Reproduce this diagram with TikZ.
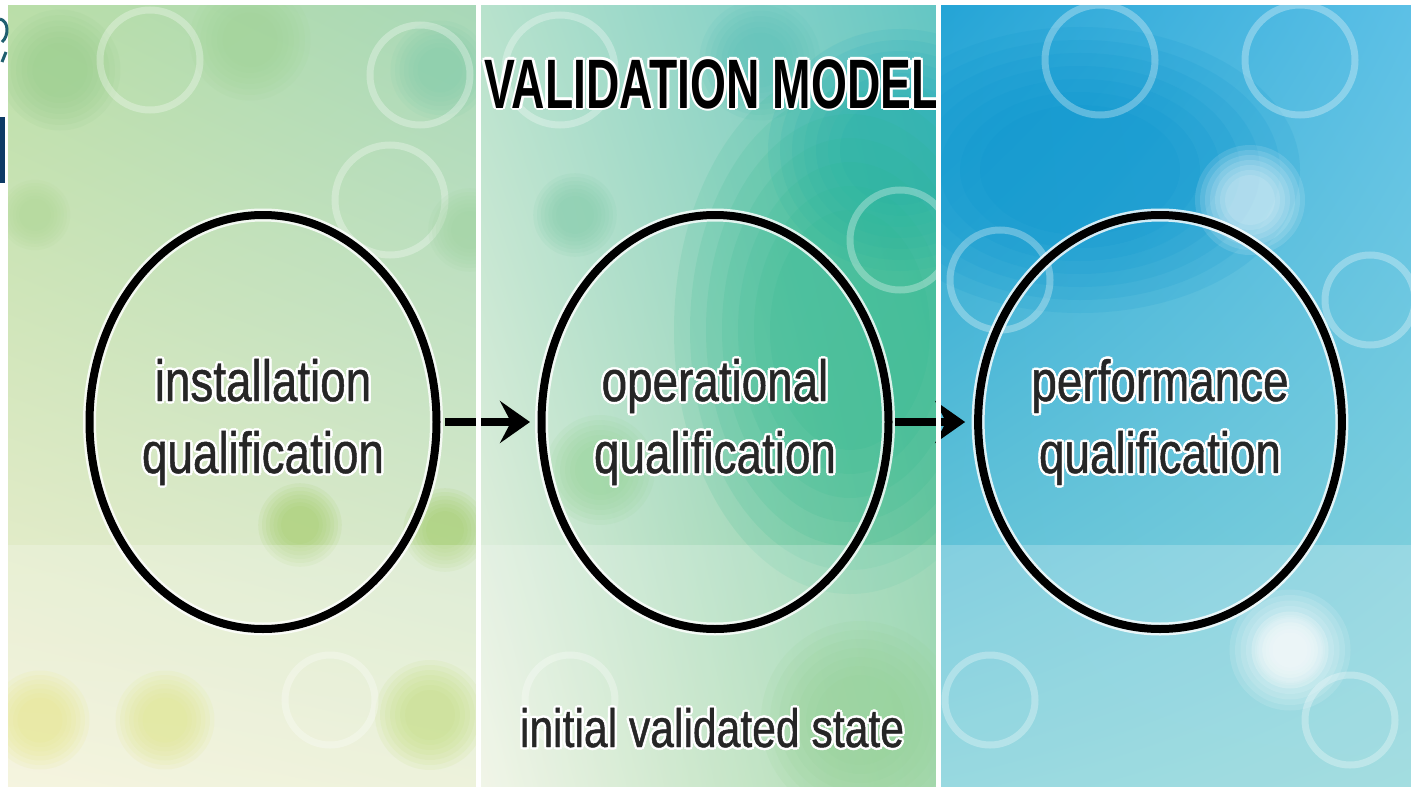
\documentclass[tikz,border=0pt]{standalone}
\usepackage{fontspec}
\setmainfont{Liberation Sans}
\newfontfamily\condfont[FakeStretch=0.79,FakeBold=0.8]{Liberation Sans}
\newfontfamily\titlefont[FakeStretch=0.66]{Liberation Sans}
\usetikzlibrary{arrows.meta,shapes.geometric,shadings}
\definecolor{txtgray}{HTML}{262626}
\definecolor{navyfrag}{HTML}{0D3B66}
\definecolor{tealfrag}{HTML}{1F5F6F}
\definecolor{lUL}{RGB}{186,222,168}\definecolor{lUR}{RGB}{168,216,184}
\definecolor{lLL}{RGB}{243,241,214}\definecolor{lLR}{RGB}{232,239,210}
\definecolor{mUL}{RGB}{184,226,204}\definecolor{mUR}{RGB}{100,198,196}
\definecolor{mLL}{RGB}{238,243,226}\definecolor{mLR}{RGB}{140,207,152}
\definecolor{rUL}{RGB}{36,164,214}\definecolor{rUR}{RGB}{92,192,230}
\definecolor{rLL}{RGB}{124,207,216}\definecolor{rLR}{RGB}{138,212,216}
\definecolor{bk1}{RGB}{150,204,138}\definecolor{bk2}{RGB}{160,212,150}
\definecolor{bk3}{RGB}{130,204,170}\definecolor{bk4}{RGB}{176,216,150}
\definecolor{bk5}{RGB}{160,212,160}\definecolor{bk6}{RGB}{160,204,100}
\definecolor{bk7}{RGB}{224,224,100}\definecolor{bk8}{RGB}{214,222,100}
\definecolor{bk9}{RGB}{176,212,84}\definecolor{bk10}{RGB}{130,204,170}
\definecolor{bk11}{RGB}{90,192,184}\definecolor{bk12}{RGB}{40,184,140}
\definecolor{bk13}{RGB}{150,212,150}\definecolor{bk14}{RGB}{118,196,118}
\definecolor{bk15}{RGB}{4,146,206}\definecolor{bk16}{RGB}{30,170,190}
\newcommand\glowtext[1]{\leavevmode\rlap{\color{white}%
 \rlap{\kern2.5pt #1}\rlap{\kern-2.5pt #1}\rlap{\raisebox{2.5pt}{#1}}\rlap{\raisebox{-2.5pt}{#1}}%
 \rlap{\kern1.8pt\raisebox{1.8pt}{#1}}\rlap{\kern-1.8pt\raisebox{1.8pt}{#1}}%
 \rlap{\kern1.8pt\raisebox{-1.8pt}{#1}}\rlap{\kern-1.8pt\raisebox{-1.8pt}{#1}}}#1}
\newcommand\softblob[5]{% x, y, x radius, y radius, colour
  \foreach \k in {1,...,7}{%
    \fill[#5, fill opacity=0.12] (#1,#2) circle[x radius={#3*(0.4+0.1*\k)}, y radius={#4*(0.4+0.1*\k)}];}}
\tikzset{
  qual/.style={ellipse, draw=black, line width=8pt, minimum width=347pt, minimum height=414pt,
    inner sep=0pt, align=center, text=txtgray,
    font={\condfont\fontsize{58}{72}\selectfont},
    preaction={draw=white, draw opacity=.8, line width=13pt}},
  flow/.style={line width=8pt, draw=black, -{Stealth[length=30pt,width=42pt,inset=11pt]}},
  titletext/.style={anchor=base, inner sep=0pt, text=black, font={\titlefont\bfseries\fontsize{70}{84}\selectfont}},
  bottomtext/.style={anchor=base, inner sep=0pt, text=txtgray, font={\condfont\fontsize{54}{60}\selectfont}},
  ring/.style={draw=white, draw opacity=.3, line width=7pt, fill=none},
  sep/.style={fill=white, draw=none}
}
\begin{document}
\begin{tikzpicture}[x=1pt,y=-1pt]
\useasboundingbox (0,0) rectangle (1411,787);
\fill[white] (0,0) rectangle (1411,787);
% panel backgrounds
\shade[upper left=lUL, upper right=lUR, lower left=lLL, lower right=lLR] (8,5) rectangle (477,787);
\shade[upper left=mUL, upper right=mUR, lower left=mLL, lower right=mLR] (480,5) rectangle (937,787);
\shade[upper left=rUL, upper right=rUR, lower left=rLL, lower right=rLR] (940,5) rectangle (1411,787);
% bokeh, left panel
\begin{scope}
\clip (8,5) rectangle (477,787);
\softblob{60}{70}{55}{55}{bk1}
\softblob{250}{40}{55}{55}{bk2}
\draw[ring] (150,60) circle[radius=50];
\softblob{440}{70}{45}{45}{bk3}
\draw[ring] (420,75) circle[radius=50];
\softblob{35}{215}{32}{32}{bk4}
\draw[ring] (390,200) circle[radius=55];
\softblob{470}{230}{38}{38}{bk5}
\softblob{300}{525}{38}{38}{bk6}
\softblob{445}{530}{38}{38}{bk6}
\softblob{40}{720}{45}{45}{bk7}
\softblob{165}{720}{45}{45}{bk8}
\softblob{430}{715}{50}{50}{bk9}
\draw[ring] (330,700) circle[radius=45];
\end{scope}
% bokeh, middle panel
\begin{scope}
\clip (480,5) rectangle (937,787);
\softblob{575}{215}{38}{38}{bk10}
\draw[ring] (560,70) circle[radius=55];
\softblob{760}{60}{55}{55}{bk11}
\softblob{900}{150}{120}{110}{bk16}
\softblob{850}{330}{160}{240}{bk12}
\draw[ring] (900,240) circle[radius=50];
\softblob{600}{470}{50}{50}{bk13}
\draw[ring] (570,700) circle[radius=45];
\softblob{860}{720}{90}{90}{bk14}
\end{scope}
% bokeh, right panel
\begin{scope}
\clip (940,5) rectangle (1411,787);
\softblob{1080}{170}{200}{130}{bk15}
\draw[ring] (1100,60) circle[radius=55];
\draw[ring] (1300,60) circle[radius=55];
\draw[ring] (1000,280) circle[radius=50];
\draw[ring] (1370,300) circle[radius=45];
\softblob{1250}{200}{50}{50}{white}
\softblob{1290}{650}{55}{55}{white}
\softblob{1290}{650}{35}{35}{white}
\draw[ring] (990,700) circle[radius=45];
\draw[ring] (1350,720) circle[radius=45];
\end{scope}
% lighter lower band
\fill[white, fill opacity=.22] (8,545) rectangle (1411,787);
% cut-off fragments at the left edge
\fill[navyfrag] (0,117) rectangle (5,183);
\draw[tealfrag, line width=3pt] (0,19) .. controls (9,21) and (9,36) .. (2,42);
\draw[tealfrag, line width=3pt] (6,52) -- (2,62);
% title
\node[titletext] (title) at (712,108) {\glowtext{VALIDATION MODEL}};
% qualification stages
\node[qual] (iq) at (263,422) {\glowtext{installation}\\\glowtext{qualification}};
\node[qual] (oq) at (715,422) {\glowtext{operational}\\\glowtext{qualification}};
\node[qual] (pq) at (1160,422) {\glowtext{performance}\\\glowtext{qualification}};
\draw[flow, shorten <=4.5pt, shorten >=7.5pt] (iq.east) -- (oq.west);
\draw[flow, shorten <=2.5pt, shorten >=9pt] (oq.east) -- (pq.west);
% bottom label
\node[bottomtext] (ivs) at (712,747) {\glowtext{initial validated state}};
% panel separators
\fill[sep] (476,0) rectangle (481,787);
\fill[sep] (936,0) rectangle (941,787);
\fill[sep] (0,0) rectangle (1411,5);
\end{tikzpicture}
\end{document}
